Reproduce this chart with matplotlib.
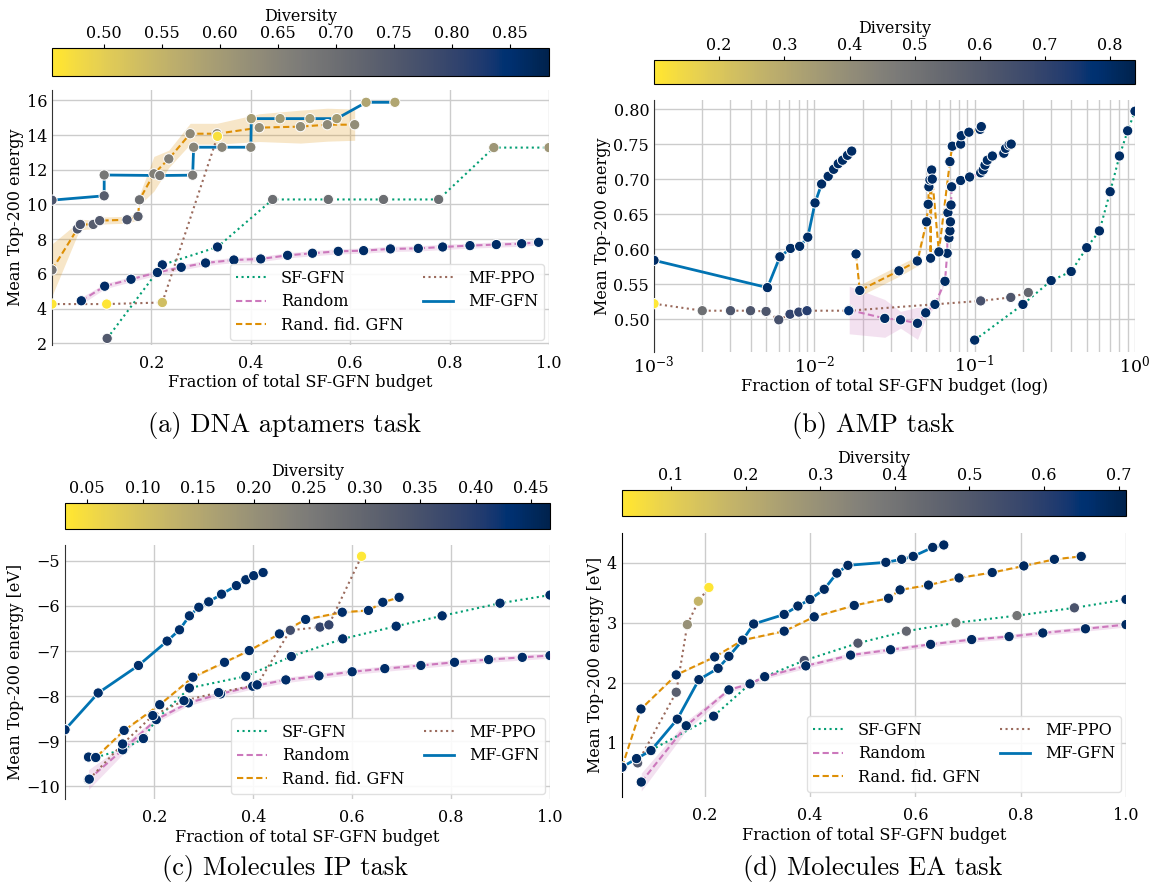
import numpy as np
import matplotlib
matplotlib.use("Agg")
import matplotlib.pyplot as plt
from matplotlib.lines import Line2D
from matplotlib.colors import Normalize
from matplotlib.cm import ScalarMappable

plt.rcParams['font.family'] = 'DejaVu Serif'
plt.rcParams['mathtext.fontset'] = 'dejavuserif'
plt.rcParams['font.size'] = 11
plt.rcParams['lines.dashed_pattern'] = [3.0, 1.6]

# ---------------- data ----------------
# (a) DNA aptamers
a_mfgfn_x = [0.0, 0.105, 0.105, 0.217, 0.283, 0.285, 0.342, 0.400, 0.401, 0.459, 0.519, 0.573, 0.632, 0.690]
a_mfgfn_y = [10.25, 10.5, 11.7, 11.67, 11.69, 13.3, 13.3, 13.3, 14.95, 14.95, 14.95, 14.95, 15.89, 15.89]
a_mfgfn_d = [0.76, 0.74, 0.68, 0.68, 0.67, 0.65, 0.65, 0.65, 0.60, 0.60, 0.60, 0.60, 0.58, 0.58]
a_rfid_x = [0.0, 0.051, 0.057, 0.083, 0.096, 0.151, 0.173, 0.176, 0.205, 0.235, 0.278, 0.332, 0.417, 0.500, 0.554, 0.609]
a_rfid_y = [6.23, 8.59, 8.85, 8.85, 9.07, 9.12, 9.31, 10.27, 11.77, 12.63, 14.08, 14.08, 14.43, 14.49, 14.60, 14.60]
a_rfid_d = [0.69, 0.76, 0.76, 0.74, 0.75, 0.76, 0.74, 0.70, 0.66, 0.66, 0.64, 0.64, 0.63, 0.63, 0.64, 0.63]
a_rfid_e = [1.5, 0.35, 0.3, 0.25, 0.2, 0.2, 0.2, 0.3, 1.0, 0.5, 0.6, 0.6, 0.8, 0.95, 0.95, 0.9]
a_rand_x = [0.059, 0.106, 0.159, 0.212, 0.26, 0.309, 0.366, 0.42, 0.474, 0.524, 0.576, 0.627, 0.681, 0.737, 0.786, 0.841, 0.894, 0.945, 0.979]
a_rand_y = [4.45, 5.29, 5.69, 6.08, 6.38, 6.63, 6.80, 6.86, 7.07, 7.19, 7.30, 7.34, 7.44, 7.47, 7.55, 7.63, 7.69, 7.74, 7.82]
a_rand_d = [0.86] * 19
a_rand_e = [0.2] + [0.15] * 18
a_sf_x = [0.111, 0.222, 0.333, 0.444, 0.556, 0.667, 0.778, 0.889, 1.0]
a_sf_y = [2.28, 6.52, 7.55, 10.29, 10.29, 10.29, 10.29, 13.28, 13.28]
a_sf_d = [0.75, 0.86, 0.86, 0.70, 0.70, 0.70, 0.70, 0.61, 0.61]
a_ppo_x = [0.0, 0.11, 0.222, 0.333]
a_ppo_y = [4.26, 4.26, 4.35, 13.93]
a_ppo_d = [0.46, 0.46, 0.53, 0.47]

# (b) AMP
b_mfgfn_x = [0.001, 0.0051, 0.0061, 0.0071, 0.0081, 0.0091, 0.0101, 0.0111, 0.0122, 0.0132, 0.0141, 0.0150, 0.0161, 0.0171]
b_mfgfn_y = [0.584, 0.545, 0.589, 0.601, 0.604, 0.617, 0.666, 0.693, 0.704, 0.714, 0.722, 0.727, 0.734, 0.740]
b_mfgfn_d = [0.80] * 14
b_rfid_x = [0.0182, 0.0192, 0.0337, 0.0439, 0.0501, 0.0513, 0.0518, 0.0526, 0.0531, 0.0539, 0.0544, 0.0598, 0.0701, 0.0725, 0.0818, 0.0825, 0.0920, 0.1080, 0.1100]
b_rfid_y = [0.593, 0.541, 0.569, 0.583, 0.639, 0.664, 0.689, 0.699, 0.587, 0.713, 0.700, 0.596, 0.725, 0.747, 0.750, 0.762, 0.767, 0.771, 0.775]
b_rfid_d = [0.80] * 19
b_rfid_e = [0.0, 0.008, 0.008, 0.007, 0.004, 0.003, 0.003, 0.003, 0.02, 0.003, 0.003, 0.003, 0.003, 0.003, 0.003, 0.003, 0.003, 0.003, 0.003]
b_rand_x = [0.0165, 0.0275, 0.0345, 0.0440, 0.0495, 0.0565, 0.0653, 0.0674, 0.0681, 0.0691, 0.0701, 0.0706, 0.0712, 0.0718, 0.0818, 0.0930, 0.1090, 0.1130, 0.1160, 0.1200, 0.1290, 0.1520, 0.1560, 0.1640, 0.1690]
b_rand_y = [0.513, 0.501, 0.499, 0.494, 0.509, 0.521, 0.554, 0.594, 0.652, 0.616, 0.626, 0.639, 0.663, 0.689, 0.698, 0.703, 0.709, 0.713, 0.720, 0.727, 0.733, 0.737, 0.744, 0.749, 0.750]
b_rand_d = [0.80] * 25
b_rand_e = [0.034, 0.027, 0.012, 0.023, 0.008, 0.003] + [0.002] * 19
b_sf_x = [0.1, 0.2, 0.3, 0.4, 0.5, 0.6, 0.7, 0.8, 0.9, 1.0]
b_sf_y = [0.470, 0.521, 0.555, 0.568, 0.602, 0.626, 0.682, 0.733, 0.769, 0.797]
b_sf_d = [0.80] * 10
b_ppo_x = [0.001, 0.002, 0.003, 0.004, 0.005, 0.006, 0.00705, 0.008, 0.009, 0.0164, 0.109, 0.168, 0.216]
b_ppo_y = [0.522, 0.512, 0.512, 0.512, 0.511, 0.499, 0.507, 0.510, 0.512, 0.512, 0.526, 0.531, 0.538]
b_ppo_d = [0.10, 0.52, 0.62, 0.62, 0.62, 0.64, 0.70, 0.70, 0.72, 0.78, 0.64, 0.62, 0.55]

# (c) Molecules IP
c_mfgfn_x = [0.0195, 0.0866, 0.168, 0.226, 0.251, 0.271, 0.29, 0.31, 0.336, 0.366, 0.385, 0.401, 0.42]
c_mfgfn_y = [-8.745, -7.93, -7.32, -6.78, -6.53, -6.22, -6.03, -5.91, -5.74, -5.55, -5.42, -5.33, -5.26]
c_mfgfn_d = [0.44] * 13
c_rfid_x = [0.067, 0.0816, 0.139, 0.211, 0.278, 0.342, 0.392, 0.453, 0.506, 0.58, 0.633, 0.662, 0.695]
c_rfid_y = [-9.35, -9.36, -8.76, -8.19, -7.58, -7.25, -6.99, -6.62, -6.30, -6.14, -6.10, -5.92, -5.81]
c_rfid_d = [0.44] * 13
c_rfid_e = [0.02] * 13
c_rand_x = [0.067, 0.136, 0.204, 0.269, 0.334, 0.399, 0.466, 0.533, 0.60, 0.666, 0.739, 0.807, 0.876, 0.944, 1.0]
c_rand_y = [-9.85, -9.19, -8.52, -8.15, -7.95, -7.78, -7.64, -7.55, -7.46, -7.39, -7.32, -7.25, -7.19, -7.14, -7.10]
c_rand_d = [0.44] * 15
c_rand_e = [0.22, 0.1] + [0.06] * 13
c_sf_x = [0.0816, 0.137, 0.178, 0.204, 0.271, 0.385, 0.477, 0.581, 0.689, 0.782, 0.899, 1.0]
c_sf_y = [-9.36, -9.18, -8.94, -8.52, -7.82, -7.56, -7.12, -6.73, -6.45, -6.22, -5.94, -5.76]
c_sf_d = [0.44] * 12
c_ppo_x = [0.0686, 0.136, 0.197, 0.26, 0.33, 0.408, 0.475, 0.535, 0.553, 0.619]
c_ppo_y = [-9.84, -9.06, -8.43, -8.10, -7.92, -7.75, -6.54, -6.47, -6.42, -4.90]
c_ppo_d = [0.44, 0.44, 0.44, 0.44, 0.44, 0.44, 0.36, 0.38, 0.38, 0.03]

# (d) Molecules EA
d_mfgfn_x = [0.043, 0.0706, 0.098, 0.148, 0.189, 0.2255, 0.246, 0.272, 0.293, 0.351, 0.377, 0.40, 0.427, 0.451, 0.472, 0.544, 0.574, 0.596, 0.633, 0.654]
d_mfgfn_y = [0.587, 0.732, 0.866, 1.39, 2.05, 2.24, 2.44, 2.71, 2.98, 3.14, 3.28, 3.39, 3.56, 3.83, 3.96, 4.01, 4.06, 4.11, 4.26, 4.30]
d_mfgfn_d = [0.68] * 20
d_rfid_x = [0.043, 0.079, 0.146, 0.219, 0.272, 0.351, 0.408, 0.484, 0.549, 0.571, 0.625, 0.683, 0.746, 0.806, 0.864, 0.915]
d_rfid_y = [0.59, 1.56, 2.13, 2.43, 2.71, 2.86, 3.10, 3.29, 3.41, 3.55, 3.63, 3.75, 3.84, 3.95, 4.06, 4.11]
d_rfid_d = [0.68] * 16
d_rfid_e = [0.01] * 16
d_rand_x = [0.0796, 0.165, 0.246, 0.286, 0.314, 0.392, 0.477, 0.553, 0.629, 0.707, 0.778, 0.842, 0.923, 1.0]
d_rand_y = [0.34, 1.28, 1.88, 1.98, 2.10, 2.28, 2.46, 2.55, 2.64, 2.72, 2.77, 2.83, 2.90, 2.97]
d_rand_d = [0.68] * 14
d_rand_e = [0.15, 0.08] + [0.04] * 12
d_sf_x = [0.098, 0.217, 0.286, 0.314, 0.389, 0.491, 0.583, 0.677, 0.793, 0.902, 1.0]
d_sf_y = [0.87, 1.44, 1.98, 2.10, 2.37, 2.66, 2.86, 3.00, 3.12, 3.25, 3.39]
d_sf_d = [0.68, 0.68, 0.68, 0.68, 0.52, 0.50, 0.45, 0.38, 0.40, 0.52, 0.68]
d_ppo_x = [0.0727, 0.146, 0.167, 0.188, 0.208]
d_ppo_y = [0.66, 1.84, 2.97, 3.36, 3.59]
d_ppo_d = [0.50, 0.48, 0.30, 0.18, 0.04]

# styles
C_SF, C_RAND, C_RFID, C_PPO, C_MF = '#029e73', '#cc78bc', '#de8f05', '#9a6a5c', '#0173b2'
CMAP = 'cividis_r'
FS = 11.5

W, H = 1149, 886
fig = plt.figure(figsize=(W / 100, H / 100), dpi=100)


def box(x0, y0, x1, y1):
    return [x0 / W, 1 - y1 / H, (x1 - x0) / W, (y1 - y0) / H]


def panel(rect, crect, vmin, vmax, cticks, cfmt, series, legend_loc=None):
    ax = fig.add_axes(rect)
    norm = Normalize(vmin, vmax)
    for x, y, d, e, col, ls, lw in series:
        ax.plot(x, y, color=col, ls=ls, lw=lw, zorder=2)
        if e is not None:
            lo = np.array(y) - np.array(e)
            hi = np.array(y) + np.array(e)
            ax.fill_between(x, lo, hi, color=col, alpha=0.22, lw=0, zorder=1)
    for x, y, d, e, col, ls, lw in series:
        ax.scatter(x, y, c=d, cmap=CMAP, norm=norm, s=55, edgecolor='white', linewidth=0.7, zorder=3)
    ax.grid(True, color='#cccccc', lw=1)
    ax.set_axisbelow(True)
    for s in ['top', 'right', 'bottom']:
        ax.spines[s].set_visible(False)
    ax.spines['left'].set_color('#333333')
    ax.tick_params(length=0, labelsize=FS)
    ax.tick_params(axis='x', pad=7)
    handles = [Line2D([], [], color=C_SF, ls=':', lw=1.5),
               Line2D([], [], color=C_RAND, ls='--', lw=1.5),
               Line2D([], [], color=C_RFID, ls='--', lw=1.5),
               Line2D([], [], color=C_PPO, ls=':', lw=1.5),
               Line2D([], [], color=C_MF, ls='-', lw=2)]
    labels = ['SF-GFN', 'Random', 'Rand. fid. GFN', 'MF-PPO', 'MF-GFN']
    if legend_loc is not None:
        ax.legend(handles, labels, ncol=2, loc=legend_loc, fontsize=11.5, handlelength=1.9,
                  handletextpad=0.9, columnspacing=1.25, framealpha=0.9, edgecolor='#dddddd',
                  borderaxespad=0.3, labelspacing=0.4)
    cax = fig.add_axes(crect)
    cb = fig.colorbar(ScalarMappable(norm=norm, cmap=CMAP), cax=cax, orientation='horizontal')
    cax.xaxis.set_ticks_position('top')
    cax.xaxis.set_label_position('top')
    cb.set_ticks(cticks)
    cb.set_ticklabels([cfmt % t for t in cticks])
    cax.tick_params(labelsize=FS, length=3, pad=1)
    cb.set_label('Diversity', fontsize=FS, labelpad=3)
    return ax


def make_series(p):
    return [
        (p['sf'][0], p['sf'][1], p['sf'][2], None, C_SF, ':', 1.5),
        (p['rand'][0], p['rand'][1], p['rand'][2], p['rand'][3], C_RAND, '--', 1.5),
        (p['rfid'][0], p['rfid'][1], p['rfid'][2], p['rfid'][3], C_RFID, '--', 1.5),
        (p['ppo'][0], p['ppo'][1], p['ppo'][2], None, C_PPO, ':', 1.5),
        (p['mf'][0], p['mf'][1], p['mf'][2], None, C_MF, '-', 2.0),
    ]


# (a)
ax = panel(box(52, 90, 549, 345), box(52, 48, 549, 76), 0.455, 0.884,
           [0.50, 0.55, 0.60, 0.65, 0.70, 0.75, 0.80, 0.85], '%.2f',
           make_series({'sf': (a_sf_x, a_sf_y, a_sf_d), 'rand': (a_rand_x, a_rand_y, a_rand_d, a_rand_e),
                        'rfid': (a_rfid_x, a_rfid_y, a_rfid_d, a_rfid_e), 'ppo': (a_ppo_x, a_ppo_y, a_ppo_d),
                        'mf': (a_mfgfn_x, a_mfgfn_y, a_mfgfn_d)}), 'lower right')
ax.set_xlim(0, 1.0)
ax.set_ylim(1.9, 16.6)
ax.set_xticks([0.2, 0.4, 0.6, 0.8, 1.0])
ax.set_yticks([2, 4, 6, 8, 10, 12, 14, 16])
ax.set_xlabel('Fraction of total SF-GFN budget', fontsize=FS, labelpad=2)
ax.set_ylabel('Mean Top-200 energy', fontsize=FS, labelpad=2)

# (b)
ax = panel(box(654, 100, 1135, 352), box(654, 60, 1135, 84), 0.10, 0.838,
           [0.2, 0.3, 0.4, 0.5, 0.6, 0.7, 0.8], '%.1f',
           make_series({'sf': (b_sf_x, b_sf_y, b_sf_d), 'rand': (b_rand_x, b_rand_y, b_rand_d, b_rand_e),
                        'rfid': (b_rfid_x, b_rfid_y, b_rfid_d, b_rfid_e), 'ppo': (b_ppo_x, b_ppo_y, b_ppo_d),
                        'mf': (b_mfgfn_x, b_mfgfn_y, b_mfgfn_d)}), None)
ax.set_xscale('log')
ax.set_xlim(1e-3, 1.0)
ax.set_ylim(0.453, 0.813)
ax.grid(True, which='minor', axis='x', color='#cccccc', lw=1)
ax.tick_params(which='minor', length=0)
ax.tick_params(axis='x', labelsize=12.5, pad=2)
ax.set_yticks([0.50, 0.55, 0.60, 0.65, 0.70, 0.75, 0.80])
ax.set_yticklabels(['%.2f' % v for v in [0.50, 0.55, 0.60, 0.65, 0.70, 0.75, 0.80]])
ax.set_xlabel('Fraction of total SF-GFN budget (log)', fontsize=FS, labelpad=1)
ax.set_ylabel('Mean Top-200 energy', fontsize=FS, labelpad=2)

# (c)
ax = panel(box(65, 545, 550, 799), box(65, 503, 550, 529), 0.030, 0.467,
           [0.05, 0.10, 0.15, 0.20, 0.25, 0.30, 0.35, 0.40, 0.45], '%.2f',
           make_series({'sf': (c_sf_x, c_sf_y, c_sf_d), 'rand': (c_rand_x, c_rand_y, c_rand_d, c_rand_e),
                        'rfid': (c_rfid_x, c_rfid_y, c_rfid_d, c_rfid_e), 'ppo': (c_ppo_x, c_ppo_y, c_ppo_d),
                        'mf': (c_mfgfn_x, c_mfgfn_y, c_mfgfn_d)}), 'lower right')
ax.set_xlim(0.0195, 1.0)
ax.set_ylim(-10.28, -4.65)
ax.set_xticks([0.2, 0.4, 0.6, 0.8, 1.0])
ax.set_yticks([-10, -9, -8, -7, -6, -5])
ax.set_xlabel('Fraction of total SF-GFN budget', fontsize=FS, labelpad=2)
ax.set_ylabel('Mean Top-200 energy [eV]', fontsize=FS, labelpad=2)

# (d)
ax = panel(box(622, 533, 1126, 797), box(622, 490, 1126, 516), 0.034, 0.71,
           [0.1, 0.2, 0.3, 0.4, 0.5, 0.6, 0.7], '%.1f',
           make_series({'sf': (d_sf_x, d_sf_y, d_sf_d), 'rand': (d_rand_x, d_rand_y, d_rand_d, d_rand_e),
                        'rfid': (d_rfid_x, d_rfid_y, d_rfid_d, d_rfid_e), 'ppo': (d_ppo_x, d_ppo_y, d_ppo_d),
                        'mf': (d_mfgfn_x, d_mfgfn_y, d_mfgfn_d)}), 'lower right')
ax.spines['left'].set_color('black')
ax.set_xlim(0.043, 1.0)
ax.set_ylim(0.09, 4.5)
ax.set_xticks([0.2, 0.4, 0.6, 0.8, 1.0])
ax.set_yticks([1, 2, 3, 4])
ax.set_xlabel('Fraction of total SF-GFN budget', fontsize=FS, labelpad=2)
ax.set_ylabel('Mean Top-200 energy [eV]', fontsize=FS, labelpad=2)

# captions
cap = dict(fontsize=19, family='cmr10', ha='center', va='center')
fig.text(285 / W, 1 - 425 / H, '(a) DNA aptamers task', **cap)
fig.text(873 / W, 1 - 425 / H, '(b) AMP task', **cap)
fig.text(285 / W, 1 - 868 / H, '(c) Molecules IP task', **cap)
fig.text(873 / W, 1 - 868 / H, '(d) Molecules EA task', **cap)

fig.savefig('out.png', dpi=100)
